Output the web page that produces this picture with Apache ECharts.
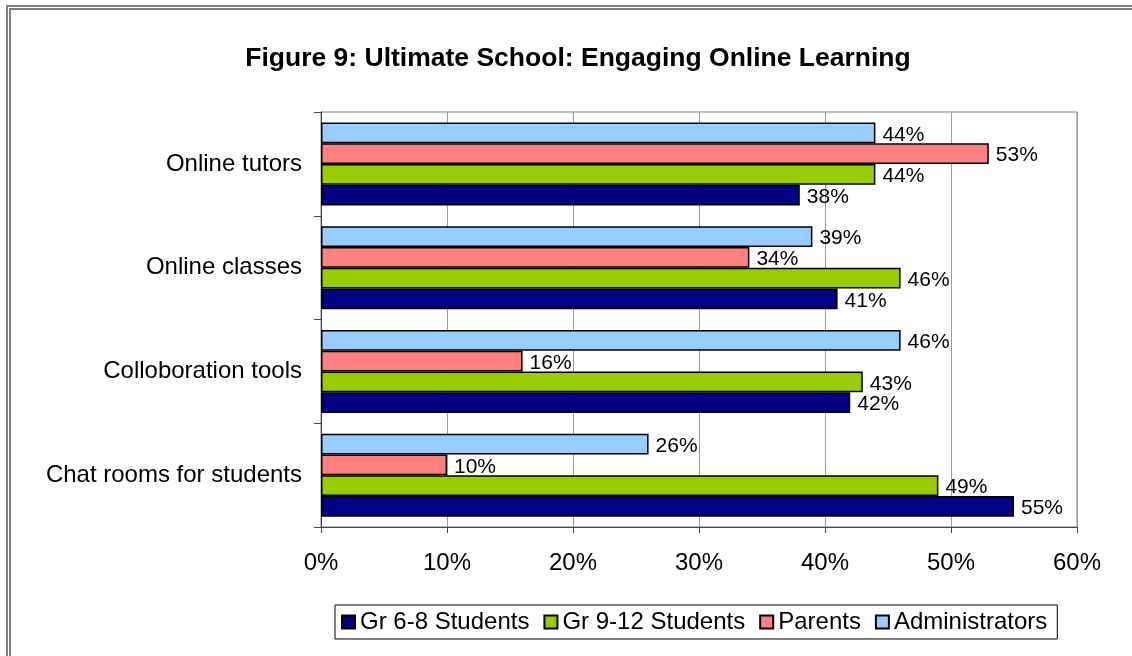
<!DOCTYPE html>
<html>
<head>
<meta charset="utf-8">
<script src="https://cdn.jsdelivr.net/npm/echarts@6/dist/echarts.min.js"></script>
<style>
  html, body { margin: 0; padding: 0; background: #fff; overflow: hidden; }
  #frame { position: absolute; left: 6px; top: 5px; width: 2000px; height: 2000px; border: 5px double #808080; }
  #main { position: absolute; left: 0; top: 0; width: 1132px; height: 656px; }
</style>
</head>
<body>
<div id="frame"></div>
<div id="main"></div>
<script>
// categories bottom -> top
const categories = ['Chat rooms for students', 'Colloboration tools', 'Online classes', 'Online tutors']
const seriesNames = ['Gr 6-8 Students', 'Gr 9-12 Students', 'Parents', 'Administrators']
const gr68 = [55, 42, 41, 38]
const gr912 = [49, 43, 46, 44]
const parents = [10, 16, 34, 53]
const admins = [26, 46, 39, 44]
const colors = ['#000080', '#99CC00', '#FF8080', '#99CCFF']

const chart = echarts.init(document.getElementById('main'))
const values = [gr68, gr912, parents, admins]

// ECharts stacks horizontal bars top-down, so add series in reverse to keep Gr 6-8 at the bottom
const order = [3, 2, 1, 0]

const option = {
  animation: false,
  textStyle: { fontFamily: 'Liberation Sans, Arial, sans-serif', color: '#000' },
  title: {
    text: 'Figure 9: Ultimate School: Engaging Online Learning',
    left: 573, top: 40, textAlign: 'center',
    textStyle: { fontSize: 26.5, fontWeight: 'bold', color: '#000' }
  },
  legend: {
    left: 335, top: 605,
    icon: 'rect',
    itemWidth: 13, itemHeight: 13, itemGap: 14,
    padding: [5, 10, 5, 6],
    borderColor: '#000', borderWidth: 1,
    textStyle: { fontSize: 24, color: '#000' },
    data: seriesNames
  },
  grid: { left: 321, right: 55, top: 112, height: 415, show: true, borderColor: '#808080', borderWidth: 1 },
  xAxis: {
    type: 'value', min: 0, max: 60, interval: 10,
    axisLabel: { formatter: '{value}%', fontSize: 24, color: '#000', margin: 24 },
    axisLine: { show: true, lineStyle: { color: '#444' } },
    axisTick: { show: true, length: 6, lineStyle: { color: '#444' } },
    splitLine: { show: true, lineStyle: { color: '#999' } }
  },
  yAxis: {
    type: 'category', data: categories,
    axisLabel: { fontSize: 24, color: '#000', margin: 19 },
    axisLine: { show: true, lineStyle: { color: '#444' } },
    axisTick: { show: true, length: 7, inside: false, lineStyle: { color: '#444' } }
  },
  series: order.map(i => ({
    name: seriesNames[i], type: 'bar', data: values[i],
    barGap: '0%', barCategoryGap: '20%',
    itemStyle: { color: colors[i], borderColor: '#000', borderWidth: 1.5 },
    label: { show: true, position: 'right', distance: 7, formatter: '{c}%', fontSize: 21, color: '#000', offset: [0, 2] }
  }))
}
chart.setOption(option)
</script>
</body>
</html>
